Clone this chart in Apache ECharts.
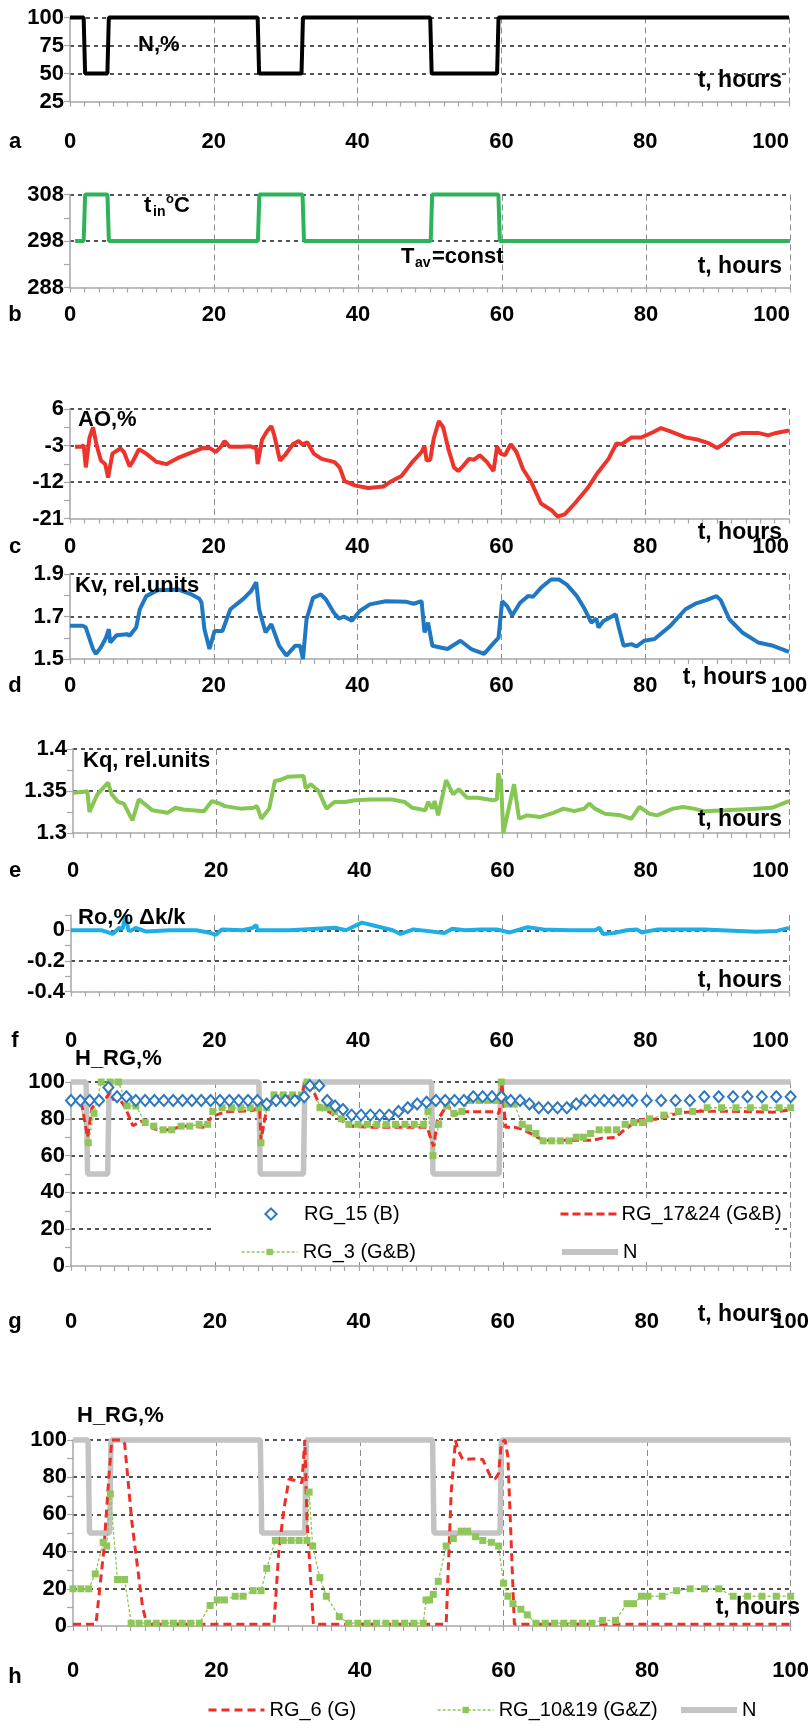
<!DOCTYPE html>
<html>
<head>
<meta charset="utf-8">
<script src="https://cdn.jsdelivr.net/npm/echarts@6/dist/echarts.min.js"></script>
<style>html,body{margin:0;padding:0;background:#fff}#main{width:812px;height:1736px}</style>
</head>
<body>
<div id="main"></div>
<script>
// ---------- DATA ----------
// a: N, %
const tNa = [0, 1.9, 2.1, 5.2, 5.4, 26.1, 26.3, 32.2, 32.4, 50.1, 50.3, 59.4, 59.6, 100];
const vNa = [100, 100, 50, 50, 100, 100, 50, 50, 100, 100, 50, 50, 100, 100];
// b: t_in, °C
const tTin = [0.7, 1.9, 2.1, 5.2, 5.4, 26.1, 26.3, 32.3, 32.5, 50.1, 50.3, 59.5, 59.7, 100];
const vTin = [298, 298, 308, 308, 298, 298, 308, 308, 298, 298, 308, 308, 298, 298];
// c: AO, %
const tAO = [0.7,1.6,1.9,2.2,2.7,3.2,3.7,4.3,4.9,5.3,5.9,7.0,7.5,8.3,8.8,9.6,10.6,12,13.4,15.2,17.4,18.5,19.5,20.3,21,21.5,22.2,23.9,25.1,25.9,26.1,26.7,27.4,28,28.4,29.2,29.9,31,31.8,32.3,33,33.9,35,36.8,37.5,38.2,39.7,41.5,43.6,44.7,46.1,47.6,48.9,49.3,49.6,50.1,50.6,51.3,51.9,52.6,53.4,54,54.7,55.5,56.2,57,58,58.9,59.4,59.9,60.5,61.3,62.1,63,64.2,65.5,67,67.8,68.8,70.2,72,73.4,74.9,76,76.7,78.1,79.5,81,82.2,83.5,85.6,87.4,88.9,90,91,92.2,93.5,95.7,97.1,98.2,100];
const vAO = [-3.3,-3.3,-2.9,-8.4,-1.2,1.5,-2.9,-6.7,-7.6,-10.9,-5,-3.7,-4.6,-8.2,-6.7,-3.9,-5,-7,-7.6,-5.9,-4.4,-3.6,-3.7,-4.6,-3.3,-1.9,-3.3,-3.3,-3.2,-3.7,-7.6,-1.6,0.5,1.8,-0.4,-6.7,-5.4,-2.7,-1.9,-2.7,-2.2,-5,-6.3,-7.1,-8.4,-11.8,-12.9,-13.5,-13.1,-11.8,-10.5,-7.1,-4.6,-3.1,-6.7,-6.5,-1.2,3,1.5,-3.7,-8.4,-9.3,-8,-6.3,-6.5,-5.4,-7.1,-9.3,-3.3,-5,-5.4,-2.7,-4.6,-8.8,-12.2,-17.3,-19,-20.5,-20,-17.3,-13.5,-9.7,-6.3,-2.5,-2.7,-1,-1,0.2,1.3,0.5,-1,-1.6,-2.5,-3.6,-2.5,-0.5,0.1,0.1,-0.5,0.1,0.7];
// d: Kv, rel.units
const tKv = [0,1.8,2.2,3.2,3.6,4.3,5,5.4,5.6,6.5,7.9,8.3,9.2,9.7,10.6,12.2,15.1,16.9,18,18.3,18.7,19.4,20.1,21.2,22.3,24.1,25.2,25.9,26.3,27.2,28,29.1,30.1,31.3,32,32.4,32.9,33.8,34.9,35.6,36.7,37.4,38.1,39.2,40.3,41.7,43.9,46.8,47.8,48.9,49.3,49.8,50.4,52.5,54.3,55.8,57.6,59,59.6,60.1,60.8,61.5,62.6,63.7,64.4,65.5,66.9,68,69.1,70.5,71.6,72.5,73.2,73.5,74.2,75.9,76.4,77,78.1,78.8,79.9,81.3,83.5,85.6,87.1,88.5,89.9,90.5,91.7,93.5,95.7,97.8,100];
const vKv = [1.656,1.656,1.648,1.547,1.524,1.555,1.6,1.64,1.578,1.612,1.617,1.61,1.648,1.733,1.796,1.824,1.827,1.804,1.783,1.765,1.64,1.547,1.632,1.632,1.734,1.783,1.82,1.861,1.734,1.625,1.664,1.562,1.516,1.562,1.562,1.5,1.687,1.788,1.804,1.78,1.718,1.69,1.7,1.68,1.726,1.757,1.772,1.769,1.76,1.772,1.625,1.671,1.562,1.547,1.586,1.547,1.524,1.578,1.6,1.772,1.749,1.705,1.765,1.796,1.793,1.835,1.874,1.874,1.85,1.796,1.734,1.671,1.69,1.648,1.679,1.71,1.64,1.562,1.57,1.559,1.586,1.594,1.656,1.734,1.762,1.777,1.796,1.777,1.687,1.625,1.578,1.562,1.534];
// e: Kq, rel.units
const tKq = [0,1.6,2,2.3,3.4,4.9,5.4,6.3,7.1,8.3,9.2,11.1,13.2,14.3,15.4,18.3,19.4,20.5,21.2,23.4,25.2,25.7,26.3,27.4,28.2,28.9,30,32.2,32.5,33.2,34.3,35.4,36.5,38,39.4,41.6,44.5,46.3,47.4,49.2,49.6,50.2,50.5,51,52.1,53.1,53.9,55,56.5,58.7,59.2,59.4,59.8,60.1,60.9,61.6,62.3,63.4,65.2,67.1,68.5,70,71.4,72.1,72.9,74.3,76.5,78,79.1,80.5,81.6,83.8,85.2,86.7,88.1,91.1,95.4,97.6,100];
const vKq = [1.348,1.349,1.35,1.325,1.346,1.36,1.346,1.337,1.335,1.315,1.34,1.327,1.324,1.33,1.328,1.326,1.338,1.335,1.332,1.329,1.33,1.332,1.317,1.329,1.362,1.363,1.367,1.368,1.353,1.358,1.35,1.329,1.337,1.337,1.339,1.34,1.34,1.337,1.33,1.327,1.337,1.329,1.338,1.321,1.363,1.346,1.352,1.342,1.342,1.339,1.34,1.371,1.358,1.3,1.331,1.358,1.317,1.321,1.319,1.324,1.329,1.326,1.329,1.335,1.329,1.323,1.321,1.317,1.331,1.323,1.321,1.329,1.331,1.329,1.326,1.327,1.329,1.33,1.338];
// f: Ro, % Δk/k
const tRo = [0,4.3,5.8,6.7,7.2,7.6,8,8.3,9,10.5,13.7,17.4,19.5,20.2,21,23.9,25.3,25.8,26,30.4,36.9,38.3,40.5,42.7,44.8,45.9,47.7,52,53.1,54.9,57.1,59.3,61.1,63.6,65.8,69.4,73,73.6,74.1,75.6,77.4,78.8,79.5,81.7,88.2,95.4,98.3,100];
const vRo = [0,0,-0.024,0.016,0.01,0.1,0,-0.004,0.016,-0.008,0,0,-0.018,-0.03,0.006,0,0.016,0.035,0,0,0.016,0,0.05,0.025,0,-0.024,0.006,-0.018,0.01,0,0.006,0.006,-0.014,0.02,0.006,0,0,0.016,-0.024,-0.018,0,0.006,-0.014,0.006,0.006,-0.01,-0.004,0.016];
// g: H_RG, %
const tRG15 = [0,1.3,2.6,3.9,5.2,6.4,7.7,9,10.3,11.6,12.9,14.2,15.5,16.8,18.1,19.4,20.7,22,23.3,24.6,25.9,27.2,28.5,29.8,31.1,32.4,33.2,34.5,35.6,36.7,37.8,39,40.3,41.6,42.9,44.2,45.5,46.8,48.1,49.4,50.7,52,53.3,54.6,55.9,57.2,58.5,59.8,61.1,62.4,63.7,65,66.3,67.6,68.9,70.2,71.5,72.8,74.1,75.4,76.7,78,80,82,84,86,88,90,92,94,96,98,100];
const vRG15 = [90,90,90,90,97,92,92,90,90,90,90,90,90,90,90,90,90,90,90,90,90,88,90,90,90,92,98,98,90,87,85,82,82,82,82,82,84,86,88,89,90,90,90,90,92,92,92,92,90,90,88,86,86,86,86,88,90,90,90,90,90,90,90,90,90,90,92,92,92,92,92,92,92];
const tRG1724 = [0,1.4,2.3,2.9,4.3,5,5.4,5.9,6.8,7.5,8.6,9.7,10.8,11.5,12.5,14,15.4,18.6,19.4,20.1,21.5,22.9,25.1,26.2,26.4,27.2,28,28.7,31.9,32.5,33,33.7,34.8,35.8,37.3,38.7,41.6,49.5,50.1,50.4,50.9,52.3,53.2,54.1,58.8,59.5,59.9,60.4,61.6,62.7,64.2,65.6,72.4,73.8,75.6,77.1,78.5,79.6,81.4,83.2,84.6,87.5,91.8,97.5,100];
const vRG1724 = [90,90,70,85.7,92.4,91.7,94.4,90.5,90.5,86.5,76.2,78.6,77.8,74.6,73.8,74.1,76.2,75.4,80.2,82,83.8,84.1,84.4,85.7,68.3,85.7,90.5,92,92,99.2,100,95,85,84,80,75.9,75.4,75.4,68,65,79,88,81.7,83.8,83.8,82.9,99,75.4,75.4,74.3,71.4,68.3,68.3,69.5,69.8,74.6,78.6,79.7,79.7,81.7,83.3,84.1,84.1,83.6,84.9];
const tRG3 = [0,1.3,2.4,3.2,4.2,5.4,6.6,7.8,9,10.3,11.5,12.8,14,15.3,16.5,17.8,19,19.7,21,22.3,23.6,24.9,26.1,26.4,27.2,28.2,29.5,30.8,32,32.8,33.6,34.6,35.6,36.6,37.6,38.6,39.9,41.2,42.5,43.8,45.1,46.4,47.7,49,49.6,50.3,51.1,52.2,53.2,54.3,55.5,56.7,57.9,59.1,59.8,60.6,61.6,62.7,63.6,64.6,65.6,66.8,68,69.2,70.2,71.2,72.2,73.4,74.6,75.8,77,78.2,79.4,80.4,82.4,84.4,86.4,88.4,90.4,92.4,94.4,96.4,98.4,100];
const vRG3 = [90,90,67,83,100,100,100,87,87,78,76,74,74,76,76,77,77,84,86,86,86,86,86,67,86,93,93,93,93,100,98,86,86,84,80,77,77,77,77,77,77,77,77,77,84,60,77,87,83,84,90,90,90,90,100,88,88,77,75,72,68,68,68,68,70,70,72,74,74,74,77,78,78,80,82,84,84,86,86,86,86,86,86,86];
const tN = [0, 2.1, 2.3, 5.1, 5.3, 26.1, 26.3, 32.3, 32.5, 50.1, 50.3, 59.5, 59.7, 100];
const vN = [100, 100, 50, 50, 100, 100, 50, 50, 100, 100, 50, 50, 100, 100];
// h: H_RG, %
const tRG6 = [0,3.2,4.3,5,5.4,6.8,7.2,8.2,9.7,10.3,28,28.7,29.4,30.1,31.2,31.9,32.3,32.6,33.5,52,52.7,53.3,53.6,54.3,56.3,57.1,58.1,58.8,59.3,59.7,60.2,60.6,61.5,100];
const vRG6 = [1,1,41,80,100,100,98,56,10,1,1,41,63,79,78,77,100,57,1,1,72,100,95,89.5,90,89.5,81,79,82,98.8,100,91,1,1];
const tRG1019 = [0,1.1,2.2,3.1,4.2,4.7,5.2,6.2,7.2,8.1,9.2,10.4,11.6,12.8,14,15.2,16.4,17.6,19.1,20.1,21.1,22.6,23.7,25.1,26.2,27,28.2,29.3,30.4,31.5,32.6,32.9,33.4,34.4,35.3,37.1,38.4,39.7,41,42.3,43.6,44.9,46.2,47.5,48.8,49.2,49.7,50.2,50.9,52,53,54.1,55,56.1,57.1,58.3,59.3,60,60.6,61.3,62.4,63.3,64.5,65.8,67.1,68.4,69.7,71,72.3,73.8,75.6,77.2,78.1,79.2,80.1,82.1,84.1,86,88,90,92,94,96,98,100];
const vRG1019 = [20,20,20,28,45,43,71,25,25,1.5,1.5,1.5,1.5,1.5,1.5,1.5,1.5,1.5,11,14,14,16,16,19,19,31,46,46,46,46,46,72,43,26,16,5,1.5,1.5,1.5,1.5,1.5,1.5,1.5,1.5,1.5,14,14,17,24,43,47,51,51,48,46,45,43,23,16,12,9,6,1.5,1.5,1.5,1.5,1.5,1.5,1.5,3,3,12,12,16,16,16,19,20,20,20,16,16,16,16,16];
// axis ticks / labels
const xTicks = {min: 0, max: 100, interval: 20};
const panelLetters = ['a','b','c','d','e','f','g','h'];

// ---------- LAYOUT ----------
const FONT = "'Liberation Sans', Arial, Helvetica, sans-serif";
const grids = [
  {left: 70, top: 17.5, width: 719, height: 84},
  {left: 70, top: 194.5, width: 720, height: 93},
  {left: 70, top: 409, width: 719, height: 109.5},
  {left: 70, top: 574, width: 719, height: 85},
  {left: 73, top: 749, width: 716, height: 84},
  {left: 71, top: 915, width: 718, height: 76.5},
  {left: 71, top: 1082, width: 724, height: 184},
  {left: 73, top: 1440, width: 722, height: 186}
];
const xMargins = [29.5, 16.5, 17.5, 15.5, 26.5, 38.5, 44.5, 33.5];
const alignMax = ['right','right','right','center','right','right','center','center'];
const letterPos = [[15,142],[15,315],[15,547],[15,686],[15,871],[15,1041],[15,1322],[15,1677]];
const AXC = '#a6a6a6';

const pts = (t, v) => t.map((x, i) => [x, v[i]]);

function xAx(i) {
  return {
    gridIndex: i, type: 'value', min: xTicks.min, max: xTicks.max, interval: xTicks.interval,
    axisLine: {show: true, onZero: false, lineStyle: {color: AXC, width: 1.5}},
    axisTick: {show: true, length: 5, lineStyle: {color: AXC, width: 1.2}},
    minorTick: {show: true, splitNumber: 10, length: 5, lineStyle: {color: AXC, width: 1.2}},
    minorSplitLine: {show: false},
    axisLabel: {margin: xMargins[i], color: '#000', fontFamily: FONT, fontSize: 22, fontWeight: 'bold',
      alignMaxLabel: alignMax[i]},
    splitLine: {show: true, showMinLine: false, lineStyle: {color: '#8c8c8c', type: [6, 4], width: 1}}
  };
}
function yAx(i, min, max, interval, minor, fmt) {
  return {
    gridIndex: i, type: 'value', min: min, max: max, interval: interval,
    axisLine: {show: true, onZero: false, lineStyle: {color: AXC, width: 1.5}},
    axisTick: {show: true, length: 6, lineStyle: {color: AXC, width: 1.2}},
    minorTick: {show: minor > 0, splitNumber: minor || 2, length: 6, lineStyle: {color: AXC, width: 1.2}},
    minorSplitLine: {show: false},
    axisLabel: {margin: 6, color: '#000', fontFamily: FONT, fontSize: 22, fontWeight: 'bold', formatter: fmt},
    splitLine: {show: true, showMinLine: false, lineStyle: {color: '#1a1a1a', type: [4, 4], width: 1.5}}
  };
}
function line(i, name, data, color, width, extra) {
  return Object.assign({
    type: 'line', name: name, xAxisIndex: i, yAxisIndex: i, data: data,
    symbol: 'none', clip: false, animation: false,
    lineStyle: {color: color, width: width}, itemStyle: {color: color}
  }, extra || {});
}
function txt(x, y, s, size, align, weight) {
  return {type: 'text', x: x, y: y, z: 100, silent: true,
    style: {text: s, fill: '#000', font: (weight || 'bold') + ' ' + (size || 22) + 'px ' + FONT,
      textAlign: align || 'left', textVerticalAlign: 'middle', align: align || 'left', verticalAlign: 'middle'}};
}

const series = [
  line(0, 'N_a', pts(tNa, vNa), '#000000', 4),
  line(1, 't_in', pts(tTin, vTin), '#2db35a', 4),
  line(2, 'AO', pts(tAO, vAO), '#ec332c', 4),
  line(3, 'Kv', pts(tKv, vKv), '#1f78c1', 4),
  line(4, 'Kq', pts(tKq, vKq), '#86c653', 4),
  line(5, 'Ro', pts(tRo, vRo), '#1eaee6', 4),
  // g
  line(6, 'N', pts(tN, vN), '#c3c3c3', 5.5),
  line(6, 'RG_3 (G&B)', pts(tRG3, vRG3), '#8fc65a', 1.3, {symbol: 'rect', symbolSize: 7, showSymbol: true, lineStyle: {color: '#8fc65a', width: 1.3, type: [3, 2]}}),
  line(6, 'RG_17&24 (G&B)', pts(tRG1724, vRG1724), '#ee2f28', 3, {lineStyle: {color: '#ee2f28', width: 3, type: [8, 4]}}),
  line(6, 'RG_15 (B)', pts(tRG15, vRG15), '#2e78c0', 0, {symbol: 'emptyDiamond', symbolSize: [10, 11], showSymbol: true, lineStyle: {width: 0, opacity: 0}, itemStyle: {color: '#2e78c0', borderWidth: 1.5}}),
  // h
  line(7, 'N', pts(tN, vN), '#c3c3c3', 5.5),
  line(7, 'RG_10&19 (G&Z)', pts(tRG1019, vRG1019), '#8fc65a', 1.3, {symbol: 'rect', symbolSize: 7, showSymbol: true, lineStyle: {color: '#8fc65a', width: 1.3, type: [3, 2]}}),
  line(7, 'RG_6 (G)', pts(tRG6, vRG6), '#ee2f28', 3, {lineStyle: {color: '#ee2f28', width: 3, type: [8, 5]}})
];

const legendCommon = {orient: 'horizontal', padding: 0, itemGap: 0, selectedMode: false,
  textStyle: {fontFamily: FONT, fontSize: 20, color: '#000'}};
const lg = (name, left, top, o) => Object.assign({}, legendCommon, {data: [{name: name}], left: left, top: top, itemWidth: 56, itemHeight: 14}, o || {});

const graphics = [
  {type: 'rect', shape: {x: 214, y: 1198, width: 561, height: 63}, style: {fill: '#ffffff'}, z: 1, silent: true},
  txt(138, 45, 'N,%'),
  txt(782, 81, 't, hours', 23, 'right'),
  txt(144, 206, 't'), txt(153, 212, 'in', 14), txt(166, 199, 'o', 13), txt(174, 206, 'C'),
  txt(401, 257, 'T'), txt(415, 263, 'av', 14), txt(432, 257, '=const'),
  txt(782, 267, 't, hours', 23, 'right'),
  txt(78, 420, 'AO,%'), txt(782, 533, 't, hours', 23, 'right'),
  txt(75, 586, 'Kv, rel.units'), txt(767, 678, 't, hours', 23, 'right'),
  txt(83, 761, 'Kq, rel.units'), txt(782, 820, 't, hours', 23, 'right'),
  txt(78, 918, 'Ro,% Δk/k'), txt(782, 981, 't, hours', 23, 'right'),
  txt(75, 1059, 'H_RG,%'), txt(782, 1315, 't, hours', 23, 'right'),
  txt(77, 1416, 'H_RG,%'), txt(800, 1608, 't, hours', 23, 'right')
].concat(panelLetters.map((l, i) => txt(letterPos[i][0], letterPos[i][1], l, 22, 'center')));

const option = {
  animation: false,
  backgroundColor: '#ffffff',
  grid: grids,
  xAxis: grids.map((g, i) => xAx(i)),
  yAxis: [
    yAx(0, 25, 100, 25, 0),
    yAx(1, 288, 308, 10, 2),
    yAx(2, -21, 6, 9, 2),
    yAx(3, 1.5, 1.9, 0.2, 2, v => v.toFixed(1)),
    yAx(4, 1.3, 1.4, 0.05, 2, v => String(Math.round(v * 100) / 100)),
    yAx(5, -0.4, 0.1, 0.2, 2, v => v > 0.05 ? '' : String(Math.round(v * 10) / 10)),
    yAx(6, 0, 100, 20, 2),
    yAx(7, 0, 100, 20, 2)
  ],
  series: series,
  legend: [
    lg('RG_15 (B)', 243, 1204),
    lg('RG_17&24 (G&B)', 559, 1204, {itemStyle: {opacity: 0}, lineStyle: {width: 3}}),
    lg('RG_3 (G&B)', 241, 1242, {itemHeight: 8, lineStyle: {width: 1.3}}),
    lg('N', 559, 1242, {itemStyle: {opacity: 0}, lineStyle: {width: 6}}),
    lg('RG_6 (G)', 207, 1700, {itemStyle: {opacity: 0}, lineStyle: {width: 3}}),
    lg('RG_10&19 (G&Z)', 437, 1700, {itemHeight: 8, lineStyle: {width: 1.3}}),
    lg('N', 678, 1700, {itemStyle: {opacity: 0}, lineStyle: {width: 6}})
  ],
  graphic: {elements: graphics}
};
option.yAxis[5].splitLine.showMaxLine = false;

const chart = echarts.init(document.getElementById('main'), null, {renderer: 'canvas', width: 812, height: 1736});
chart.setOption(option);
</script>
</body>
</html>
